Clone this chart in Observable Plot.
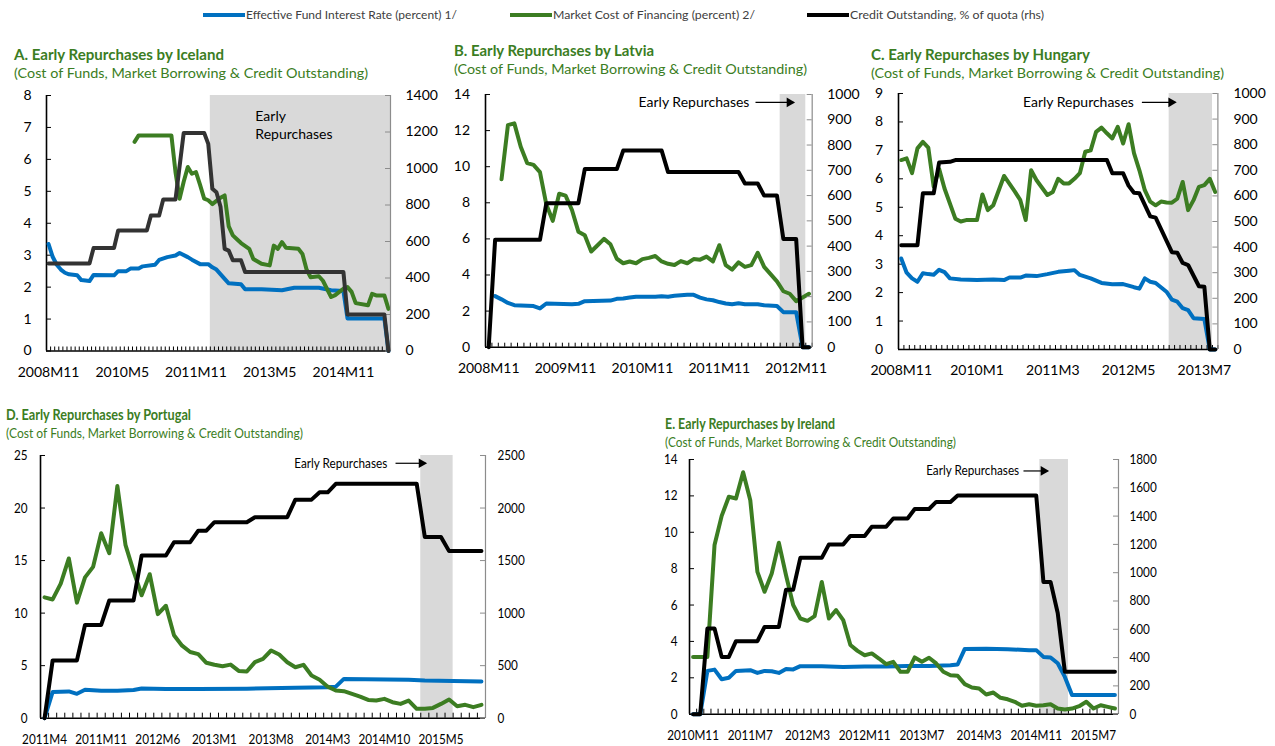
<!DOCTYPE html>
<html><head><meta charset="utf-8">
<script src="https://cdn.jsdelivr.net/npm/d3@7"></script>
<script src="https://cdn.jsdelivr.net/npm/@observablehq/plot@0.6"></script>
<style>
body{margin:0;background:#fff;}
#root{position:relative;width:1275px;height:746px;overflow:hidden;font-family:Lato,"Open Sans",sans-serif;background:#fff;}
.abs{position:absolute;white-space:nowrap;}
.title{color:#3b7d23;font-weight:bold;font-size:15px;line-height:18px;}
.sub{color:#3b7d23;font-size:14px;line-height:18px;}
.leg{font-size:12px;color:#404040;line-height:14px;}
svg{overflow:visible;}
</style></head><body><div id="root"></div><script>
// ---------- DATA (x = months since the panel's first month, value) ----------
const seriesNames = ["Effective Fund Interest Rate (percent) 1/", "Market Cost of Financing (percent) 2/", "Credit Outstanding, % of quota (rhs)"];

// A. Iceland (2008M11 .. 2015M10)
const startIceland = "2008M11", endIceland = "2015M10";
const ticksIceland = ["2008M11","2010M5","2011M11","2013M5","2014M11"];
const shadeIceland = ["2012M3","2015M10"];
const rateIceland = [[0,3.35],[1,2.95],[2,2.7],[3,2.55],[4,2.45],[5,2.4],[7,2.37],[8,2.22],[10,2.19],[11,2.38],[16,2.37],[17,2.5],[19,2.5],[20,2.58],[22,2.58],[23,2.65],[26,2.7],[27,2.85],[29,2.94],[31,2.99],[32,3.07],[34,2.94],[35,2.86],[37,2.72],[39,2.72],[40,2.62],[41,2.55],[43,2.26],[44,2.12],[47,2.09],[48,1.93],[52,1.93],[57,1.9],[60,1.98],[66,1.98],[69,1.9],[72,1.88],[73,1.02],[82,1.02],[83,0]];
const marketIceland = [[21,6.55],[22,6.75],[30,6.75],[31,5.6],[32,4.77],[33,5.3],[34,5.76],[35,5.55],[36,5.6],[37,5.2],[38,4.77],[39,4.72],[40,4.6],[41,4.7],[42,4.8],[43,4.87],[44,3.9],[45,3.62],[46,3.5],[47,3.38],[49,3.2],[50,2.88],[52,2.73],[54,2.68],[55,3.3],[56,3.2],[57,3.41],[58,3.23],[61,3.2],[62,3.04],[63,2.55],[64,2.31],[66,2.34],[67,2.2],[69,1.69],[70,1.75],[71,1.85],[72,1.95],[73,2.0],[74,1.85],[75,1.5],[78,1.43],[79,1.79],[80,1.74],[82,1.74],[83,1.32]];
const creditIceland = [[0,480],[10,480],[11,565],[16,565],[17,660],[24,660],[25,743],[27,743],[28,830],[31,830],[33,1195],[38,1195],[39,1135],[40,889],[41,870],[42,790],[43,560],[44,550],[45,497],[47,497],[48,433],[72,433],[73,200],[82,200],[83,0]];

// B. Latvia (2008M11 .. 2013M1)
const startLatvia = "2008M11", endLatvia = "2013M1";
const ticksLatvia = ["2008M11","2009M11","2010M11","2011M11","2012M11"];
const shadeLatvia = ["2012M9","2012M12"];
const rateLatvia = [[1,2.83],[2,2.65],[3,2.45],[4,2.33],[6,2.3],[7,2.28],[8,2.15],[9,2.42],[13,2.38],[14,2.4],[15,2.55],[19,2.58],[20,2.68],[21,2.7],[22,2.75],[23,2.8],[26,2.8],[27,2.82],[28,2.8],[29,2.85],[31,2.9],[32,2.9],[33,2.75],[34,2.65],[35,2.6],[36,2.5],[37,2.42],[38,2.38],[39,2.43],[40,2.38],[42,2.38],[43,2.32],[45,2.28],[46,1.94],[48,1.94],[49,0],[50,0]];
const marketLatvia = [[2,9.3],[3,12.3],[4,12.4],[5,11.1],[6,10.2],[7,10.1],[8,9.7],[9,7.9],[10,7.0],[11,8.5],[12,8.4],[13,7.6],[14,6.4],[15,6.2],[16,5.3],[17,5.65],[18,6.0],[19,5.7],[20,4.9],[21,4.65],[22,4.75],[23,4.65],[24,4.88],[25,4.95],[26,5.05],[27,4.75],[28,4.62],[29,4.55],[30,4.77],[31,4.65],[32,4.88],[33,4.85],[34,5.02],[35,4.75],[36,5.65],[37,4.55],[38,4.3],[39,4.7],[40,4.45],[41,4.55],[42,5.23],[43,4.45],[44,4.05],[45,3.65],[46,3.1],[47,2.96],[48,2.55],[49,2.75],[50,2.96]];
const creditLatvia = [[0,0],[1,425],[8,425],[9,570],[14,570],[15,705],[20,705],[21,778],[27,778],[28,693],[39,693],[40,648],[42,648],[43,600],[45,600],[46,428],[48,428],[49,0],[50,0]];

// C. Hungary (2008M11 .. 2013M9)
const startHungary = "2008M11", endHungary = "2013M9";
const ticksHungary = ["2008M11","2010M1","2011M3","2012M5","2013M7"];
const shadeHungary = ["2013M1","2013M8"];
const rateHungary = [[0,3.2],[1,2.7],[2,2.5],[3,2.38],[4,2.68],[5,2.65],[6,2.63],[7,2.8],[8,2.72],[9,2.5],[11,2.46],[14,2.44],[17,2.46],[19,2.44],[20,2.53],[22,2.53],[23,2.6],[25,2.58],[27,2.65],[29,2.73],[31,2.77],[32,2.79],[33,2.62],[35,2.5],[37,2.34],[39,2.29],[41,2.3],[43,2.19],[44,2.14],[45,2.5],[46,2.38],[47,2.34],[49,2.03],[50,1.75],[51,1.68],[52,1.45],[53,1.38],[54,1.1],[56,1.07],[57,0],[58,0]];
const marketHungary = [[0,6.66],[1,6.72],[2,6.2],[3,7.07],[4,7.3],[5,7.1],[6,5.72],[7,6.35],[8,5.66],[10,4.6],[11,4.5],[12,4.55],[14,4.55],[15,5.45],[16,4.9],[17,5.07],[19,6.1],[21,5.55],[22,5.25],[23,4.55],[24,6.3],[25,5.95],[27,5.43],[28,5.54],[29,6.0],[30,5.84],[31,5.84],[32,6.0],[33,6.2],[34,6.95],[35,7.0],[36,7.65],[37,7.8],[38,7.6],[39,7.42],[40,7.83],[41,7.24],[42,7.92],[43,6.9],[44,6.3],[45,5.6],[46,5.2],[47,5.07],[48,5.2],[49,5.17],[50,5.16],[51,5.3],[52,5.89],[53,4.9],[54,5.25],[55,5.72],[56,5.78],[57,6.0],[58,5.54]];
const creditHungary = [[0,407],[3,407],[4,610],[6,610],[7,730],[9,733],[10,740],[38,740],[39,688],[41,688],[42,640],[43,612],[44,610],[46,520],[47,515],[48,470],[50,380],[51,378],[52,338],[53,330],[55,247],[56,245],[57,0],[58,0]];

// D. Portugal (2011M4 .. 2015M10)
const startPortugal = "2011M4", endPortugal = "2015M10";
const ticksPortugal = ["2011M4","2011M11","2012M6","2013M1","2013M8","2014M3","2014M10","2015M5"];
const shadePortugal = ["2015M3","2015M6"];
const ratePortugal = [[0,0],[1,2.5],[3,2.55],[4,2.32],[5,2.7],[7,2.62],[9,2.62],[11,2.68],[12,2.82],[15,2.78],[19,2.78],[25,2.8],[31,2.9],[35,2.95],[36,3.0],[37,3.74],[45,3.66],[47,3.58],[54,3.5]];
const marketPortugal = [[0,11.5],[1,11.3],[2,12.8],[3,15.2],[4,11.0],[5,13.4],[6,14.4],[7,17.6],[8,15.7],[9,22.1],[10,16.5],[11,14.0],[12,11.7],[13,13.7],[14,9.9],[15,10.7],[16,7.9],[17,6.9],[18,6.3],[19,6.1],[20,5.27],[21,5.08],[22,4.95],[23,5.1],[24,4.5],[25,4.44],[26,5.33],[27,5.65],[28,6.44],[29,6.06],[30,5.33],[31,4.85],[32,5.08],[33,4.06],[34,3.65],[35,3.0],[36,2.63],[37,2.57],[38,2.32],[39,2.06],[40,1.74],[41,1.68],[42,1.84],[43,1.52],[44,1.36],[45,1.68],[46,0.89],[47,0.89],[48,0.98],[49,1.36],[50,1.78],[51,1.14],[52,1.27],[53,1.05],[54,1.27]];
const creditPortugal = [[0,0],[1,550],[4,550],[5,888],[7,888],[8,1120],[11,1120],[12,1548],[15,1548],[16,1675],[18,1675],[19,1785],[20,1785],[21,1865],[25,1865],[26,1913],[30,1913],[31,2080],[33,2080],[34,2150],[35,2150],[36,2230],[46,2230],[47,1725],[49,1725],[50,1590],[54,1590]];

// E. Ireland (2010M11 .. 2015M10)
const startIreland = "2010M11", endIreland = "2015M10";
const ticksIreland = ["2010M11","2011M7","2012M3","2012M11","2013M7","2014M3","2014M11","2015M7"];
const shadeIreland = ["2014M12","2015M3"];
const rateIreland = [[0,0],[1,0],[2,2.38],[3,2.45],[4,1.92],[5,2.0],[6,2.38],[8,2.42],[9,2.27],[10,2.38],[11,2.36],[12,2.27],[13,2.48],[14,2.46],[15,2.64],[18,2.63],[21,2.6],[24,2.62],[27,2.62],[30,2.65],[33,2.65],[36,2.69],[37,2.73],[38,3.59],[41,3.6],[44,3.57],[47,3.52],[48,3.52],[49,3.15],[50,3.12],[51,2.8],[52,2.05],[53,1.06],[59,1.06]];
const marketIreland = [[0,3.15],[1,3.15],[2,3.15],[3,9.3],[4,10.9],[5,11.95],[6,11.86],[7,13.3],[8,11.76],[9,7.82],[10,6.73],[11,7.73],[12,9.42],[13,7.64],[14,6.0],[15,5.26],[16,5.13],[17,5.39],[18,7.27],[19,5.26],[20,5.72],[21,5.17],[22,3.8],[23,3.48],[24,3.24],[25,3.34],[26,3.06],[27,2.75],[28,2.88],[29,2.33],[30,2.33],[31,3.12],[32,2.88],[33,3.1],[34,2.79],[35,2.33],[36,2.14],[37,2.11],[38,1.65],[39,1.47],[40,1.41],[41,1.08],[42,1.19],[43,0.9],[44,0.82],[45,0.68],[46,0.46],[47,0.55],[48,0.46],[49,0.49],[50,0.55],[51,0.31],[52,0.26],[53,0.31],[54,0.44],[55,0.68],[56,0.31],[57,0.49],[58,0.4],[59,0.31]];
const creditIreland = [[0,0],[1,0],[2,605],[3,605],[4,405],[5,405],[6,516],[9,516],[10,617],[12,617],[13,880],[14,880],[15,1105],[18,1105],[19,1200],[21,1200],[22,1260],[24,1260],[25,1325],[27,1325],[28,1383],[30,1383],[31,1450],[33,1450],[34,1500],[36,1500],[37,1545],[48,1545],[49,935],[50,935],[51,715],[52,300],[59,300]];

// ---------- STYLE / LAYOUT ----------
const BLUE = "#0070c0", GREEN = "#3c7d22", SHADE = "#d9d9d9", RAXIS = "#8c8c8c";
const root = document.getElementById("root");

function addDiv(cls, text, x, y, extra) {
  const d = document.createElement("div");
  d.className = "abs " + cls;
  d.textContent = text;
  d.style.left = x + "px"; d.style.top = y + "px";
  if (extra) Object.assign(d.style, extra);
  root.appendChild(d);
  return d;
}
function fitWidth(el, target) {
  const w = el.getBoundingClientRect().width;
  if (w > 0) { el.style.transformOrigin = "0 50%"; el.style.transform = `scaleX(${target / w})`; }
}

// legend
const legendLayout = [{x: 203, color: BLUE, w: 211}, {x: 510, color: GREEN, w: 202}, {x: 807, color: "#000", w: 194}];
seriesNames.forEach((name, i) => {
  const L = legendLayout[i];
  addDiv("", "", L.x, 13, {width: "42px", height: "4px", background: L.color});
  fitWidth(addDiv("leg", name, L.x + 43, 8), L.w);
});

function parseMonth(s) { const [y, m] = s.split("M").map(Number); return y * 12 + (m - 1); }

// horizontally condense the SVG texts of a panel (keeps their anchor points)
function condense(svg, s) {
  svg.querySelectorAll("text").forEach(t => {
    const xa = t.getAttribute("x");
    let x = 0;
    if (xa !== null && xa.trim() !== "" && !isNaN(+xa)) { x = +xa; t.setAttribute("x", 0); }
    const tr = t.getAttribute("transform") || "";
    t.setAttribute("transform", `${tr} translate(${x},0) scale(${s},1)`);
  });
}

function panel(cfg) {
  const [fx0, fy0, fx1, fy1] = cfg.frame;
  const fw = fx1 - fx0, fh = fy1 - fy0;
  const ml = 60, mr = 70, mt = 20, mb = 40;
  const W = fw + ml + mr, H = fh + mt + mb;
  const s0 = parseMonth(cfg.start), n = parseMonth(cfg.end) - s0 + 1;
  const idx = l => parseMonth(l) - s0;
  const tickIdx = cfg.ticks.map(idx);
  const labelOf = new Map(cfg.ticks.map(t => [idx(t), t]));
  const pts = a => a.map(([x, y]) => ({x, y}));
  const [l0, l1, ls] = cfg.left, [r0, r1, rs] = cfg.right;
  const lt = d3.range(l0, l1 + ls / 2, ls), rt = d3.range(r0, r1 + rs / 2, rs);
  const bounds = d3.range(n + 1).map(i => i - 0.5);
  const shade = [{x1: idx(cfg.shade[0]) - 0.5, x2: idx(cfg.shade[1]) + 0.5}];
  const fontStyle = {fontFamily: "Lato, 'Open Sans', sans-serif", fontSize: "14px", color: "#000", background: "transparent", overflow: "visible"};
  const note = cfg.note;
  const noteMarks = note.arrow ? [
    Plot.text([note], {x: "tx", y: "y", text: "label", textAnchor: "end", fontSize: 14, fill: "#000"}),
    Plot.link([note], {x1: "ax1", y1: "y", x2: "ax2", y2: "y", stroke: "#000", strokeWidth: 1.2}),
    Plot.dot([note], {x: "ax2", y: "y", symbol: "triangle", rotate: 90, r: 3.6, fill: "#000", stroke: "none", dx: -4})
  ] : [
    Plot.text([note], {x: "tx", y: "y", text: "label", textAnchor: "start", lineHeight: 1.29, fontSize: 14, fill: "#000"})
  ];
  const fmt = d => String(d);
  const base = Plot.plot({
    width: W, height: H, marginLeft: ml, marginRight: mr, marginTop: mt, marginBottom: mb,
    x: {domain: [-0.5, n - 0.5], axis: null},
    y: {domain: [l0, l1], axis: null},
    style: fontStyle,
    marks: [
      Plot.rect(shade, {x1: "x1", x2: "x2", fill: SHADE}),
      Plot.ruleX([-0.5], {stroke: "#000", strokeWidth: 1.6}),
      Plot.ruleY([l0], {stroke: "#000", strokeWidth: 1.6}),
      Plot.tickY(lt, {y: d => d, insetRight: fw - 5, stroke: "#000"}),
      Plot.tickX(bounds, {x: d => d, insetTop: fh - cfg.mt, stroke: "#000"}),
      Plot.axisY(lt, {anchor: "left", tickSize: 0, tickPadding: cfg.padL, fontSize: 14, tickFormat: fmt, label: null}),
      Plot.axisX(tickIdx, {anchor: "bottom", tickSize: 0, tickPadding: 16, tickFormat: d => labelOf.get(d), fontSize: 14, label: null}),
      Plot.line(pts(cfg.rate), {x: "x", y: "y", stroke: BLUE, strokeWidth: 4, strokeLinejoin: "round"}),
      Plot.line(pts(cfg.market), {x: "x", y: "y", stroke: GREEN, strokeWidth: 4, strokeLinejoin: "round"}),
      ...noteMarks
    ]
  });
  const over = Plot.plot({
    width: W, height: H, marginLeft: ml, marginRight: mr, marginTop: mt, marginBottom: mb,
    x: {domain: [-0.5, n - 0.5], axis: null},
    y: {domain: [r0, r1], axis: null},
    style: fontStyle,
    marks: [
      Plot.ruleX([n - 0.5], {stroke: RAXIS, strokeWidth: 1.2}),
      Plot.tickY(rt, {y: d => d, insetLeft: fw - 5, stroke: RAXIS}),
      Plot.axisY(rt, {anchor: "right", tickSize: 0, tickPadding: cfg.padR, fontSize: 14, tickFormat: fmt, label: null}),
      Plot.line(pts(cfg.credit), {x: "x", y: "y", stroke: cfg.creditColor, strokeWidth: 4, strokeLinejoin: "round"})
    ]
  });
  for (const svg of [base, over]) {
    const wrap = document.createElement("div");
    wrap.className = "abs";
    wrap.style.left = (fx0 - ml) + "px"; wrap.style.top = (fy0 - mt) + "px";
    wrap.style.width = W + "px"; wrap.style.height = H + "px";
    wrap.appendChild(svg);
    root.appendChild(wrap);
    if (cfg.squeeze) condense(svg, cfg.squeeze);
  }
  fitWidth(addDiv("title", cfg.title, cfg.tx, cfg.ty - 9), cfg.tw);
  fitWidth(addDiv("sub", "(Cost of Funds, Market Borrowing & Credit Outstanding)", cfg.tx, cfg.ty + 10), cfg.sw);
}

panel({title: "A. Early Repurchases by Iceland", tx: 14, ty: 54, tw: 210, sw: 354, frame: [46, 95, 390, 350.5],
  start: startIceland, end: endIceland, ticks: ticksIceland, shade: shadeIceland,
  rate: rateIceland, market: marketIceland, credit: creditIceland, creditColor: "#333",
  left: [0, 8, 1], right: [0, 1400, 200], padL: 15, padR: 15, mt: 4,
  note: {label: "Early\nRepurchases", tx: 50.5, y: 7.09, arrow: false}});
panel({title: "B. Early Repurchases by Latvia", tx: 454, ty: 50, tw: 200, sw: 353, frame: [485, 94, 811.7, 346.7],
  start: startLatvia, end: endLatvia, ticks: ticksLatvia, shade: shadeLatvia,
  rate: rateLatvia, market: marketLatvia, credit: creditLatvia, creditColor: "#000",
  left: [0, 14, 2], right: [0, 1000, 100], padL: 15.5, padR: 15, mt: 4,
  note: {label: "Early Repurchases", tx: 40.7, ax1: 41.65, ax2: 47.58, y: 13.56, arrow: true}});
panel({title: "C. Early Repurchases by Hungary", tx: 871, ty: 54, tw: 219, sw: 353, frame: [898.3, 93.3, 1217.7, 349.3],
  start: startHungary, end: endHungary, ticks: ticksHungary, shade: shadeHungary,
  rate: rateHungary, market: marketHungary, credit: creditHungary, creditColor: "#000",
  left: [0, 9, 1], right: [0, 1000, 100], padL: 15.5, padR: 15.5, mt: 4,
  note: {label: "Early Repurchases", tx: 42.98, ax1: 44.46, ax2: 50.61, y: 8.69, arrow: true}});
panel({title: "D. Early Repurchases by Portugal", tx: 6, ty: 414, tw: 185, sw: 297, frame: [40, 455, 485, 717.7], squeeze: 0.84,
  start: startPortugal, end: endPortugal, ticks: ticksPortugal, shade: shadePortugal,
  rate: ratePortugal, market: marketPortugal, credit: creditPortugal, creditColor: "#000",
  left: [0, 25, 5], right: [0, 2500, 500], padL: 13, padR: 12, mt: 5,
  note: {label: "Early Repurchases", tx: 42.36, ax1: 43.38, ax2: 47.09, y: 24.26, arrow: true}});
panel({title: "E. Early Repurchases by Ireland", tx: 665, ty: 423, tw: 170, sw: 291, frame: [689.3, 459.3, 1118.3, 714], squeeze: 0.84,
  start: startIreland, end: endIreland, ticks: ticksIreland, shade: shadeIreland,
  rate: rateIreland, market: marketIreland, credit: creditIreland, creditColor: "#000",
  left: [0, 14, 2], right: [0, 1800, 200], padL: 12, padR: 11, mt: 5,
  note: {label: "Early Repurchases", tx: 45.61, ax1: 46.21, ax2: 49.57, y: 13.37, arrow: true}});
</script></body></html>
